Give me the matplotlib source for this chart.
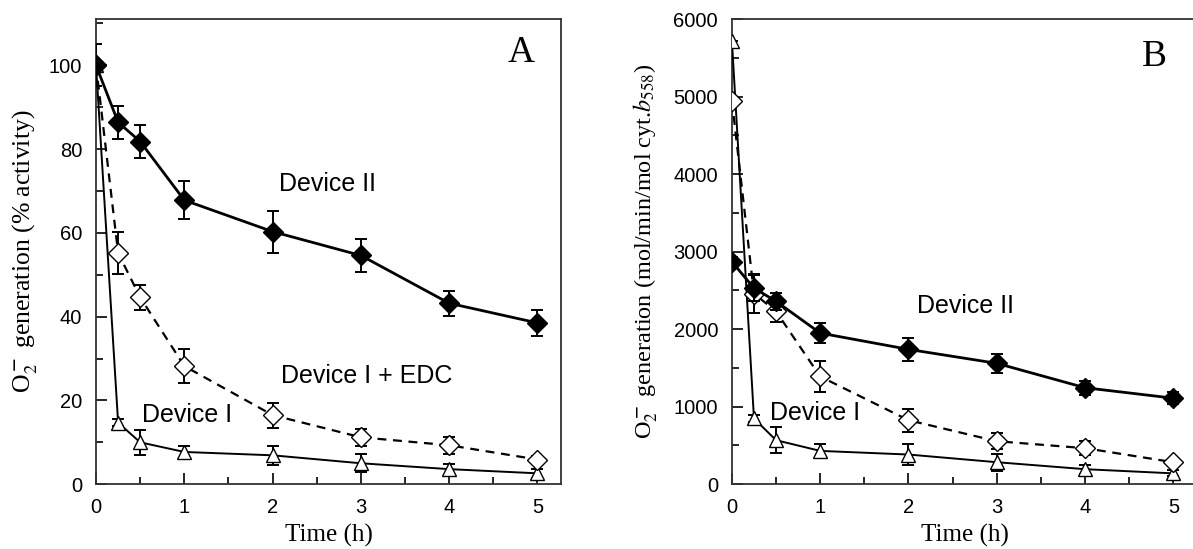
import matplotlib
matplotlib.use('Agg')
import matplotlib.pyplot as plt
from matplotlib.ticker import MultipleLocator

plt.rcParams['mathtext.fontset'] = 'stix'

TIME = [0, 0.25, 0.5, 1, 2, 3, 4, 5]

# panel A: % activity
A_DEV2 = [100, 86.4, 81.8, 67.8, 60.3, 54.6, 43.2, 38.5]
A_DEV2_ERR = [5, 4, 4, 4.6, 5, 4, 3, 3]
A_EDC = [100, 55.2, 44.6, 28.2, 16.5, 11.2, 9.3, 5.9]
A_EDC_ERR = [0, 5, 3, 4, 3, 2, 2, 0.8]
A_DEV1 = [100, 14.7, 10.0, 7.7, 6.9, 5.0, 3.6, 2.6]
A_DEV1_ERR = [0, 0.8, 3, 1.4, 2.3, 2.2, 1.3, 1.0]

# panel B: mol/min/mol cyt. b558
B_DEV2 = [2870, 2530, 2360, 1950, 1740, 1560, 1245, 1110]
B_DEV2_ERR = [60, 170, 110, 130, 145, 120, 90, 80]
B_EDC = [4950, 2460, 2230, 1390, 826, 555, 465, 284]
B_EDC_ERR = [0, 250, 140, 200, 150, 100, 90, 40]
B_DEV1 = [5720, 848, 568, 430, 383, 284, 194, 140]
B_DEV1_ERR = [0, 40, 170, 85, 130, 110, 60, 40]

SANS = 'Liberation Sans'
SERIF = 'Liberation Serif'


def draw_series(ax, y, err, marker, fill, ls, lw, z):
    ax.errorbar(TIME, y, yerr=err, fmt='none', ecolor='black',
                elinewidth=1.4, capsize=4.5, capthick=1.4, zorder=z)
    ax.plot(TIME, y, color='black', ls=ls, lw=lw, marker=marker,
            ms=10 if marker == 'D' else 10.5, mfc=fill, mec='black', mew=1.0,
            zorder=z + 1)


def style_axes(ax, ymax, major, minor):
    ax.set_xlim(0, 5.27)
    ax.set_ylim(0, ymax)
    ax.xaxis.set_major_locator(MultipleLocator(1))
    ax.xaxis.set_minor_locator(MultipleLocator(0.5))
    ax.yaxis.set_major_locator(MultipleLocator(major))
    ax.yaxis.set_minor_locator(MultipleLocator(minor))
    ax.tick_params(which='both', direction='in', top=False, right=False,
                   width=1.2, colors='black', labelsize=14.5)
    ax.tick_params(which='major', length=8, pad=10)
    ax.tick_params(which='minor', length=5)
    for lab in ax.get_xticklabels() + ax.get_yticklabels():
        lab.set_fontfamily(SANS)
    for spine in ax.spines.values():
        spine.set_linewidth(1.3)
        spine.set_color('#333333')
    ax.set_xlabel('Time (h)', fontfamily=SERIF, fontsize=18, labelpad=5)


fig = plt.figure(figsize=(11.93, 5.49), dpi=100)
axA = fig.add_axes([0.0805, 0.118, 0.390, 0.847])
axB = fig.add_axes([0.6135, 0.118, 0.390, 0.847])

# panel A
draw_series(axA, A_DEV1, A_DEV1_ERR, '^', 'white', '-', 1.4, 2)
draw_series(axA, A_EDC, A_EDC_ERR, 'D', 'white', (0, (4, 3)), 1.6, 4)
draw_series(axA, A_DEV2, A_DEV2_ERR, 'D', 'black', '-', 2.0, 6)
style_axes(axA, 111, 20, 10)
axA.set_ylabel(r'O$_2^{\bf -}$ generation (% activity)', fontfamily=SERIF,
               fontsize=18.5, labelpad=6)
axA.text(2.62, 71.6, 'Device II', fontfamily=SANS, fontsize=18, ha='center', va='center')
axA.text(3.06, 25.9, 'Device I + EDC', fontfamily=SANS, fontsize=18, ha='center', va='center')
axA.text(1.03, 16.5, 'Device I', fontfamily=SANS, fontsize=18, ha='center', va='center')
axA.text(4.81, 102.9, 'A', fontfamily=SERIF, fontsize=27, ha='center', va='center')

# panel B
draw_series(axB, B_DEV1, B_DEV1_ERR, '^', 'white', '-', 1.4, 2)
draw_series(axB, B_EDC, B_EDC_ERR, 'D', 'white', (0, (4, 3)), 1.6, 4)
draw_series(axB, B_DEV2, B_DEV2_ERR, 'D', 'black', '-', 2.0, 6)
style_axes(axB, 6000, 1000, 500)
axB.set_ylabel(r'O$_2^{\bf -}$ generation (mol/min/mol cyt.$b_{558}$)',
               fontfamily=SERIF, fontsize=17.5, labelpad=10)
axB.text(2.65, 2300, 'Device II', fontfamily=SANS, fontsize=18, ha='center', va='center')
axB.text(0.94, 916, 'Device I', fontfamily=SANS, fontsize=18, ha='center', va='center')
axB.text(4.79, 5520, 'B', fontfamily=SERIF, fontsize=27, ha='center', va='center')

fig.savefig('out.png', dpi=100)
